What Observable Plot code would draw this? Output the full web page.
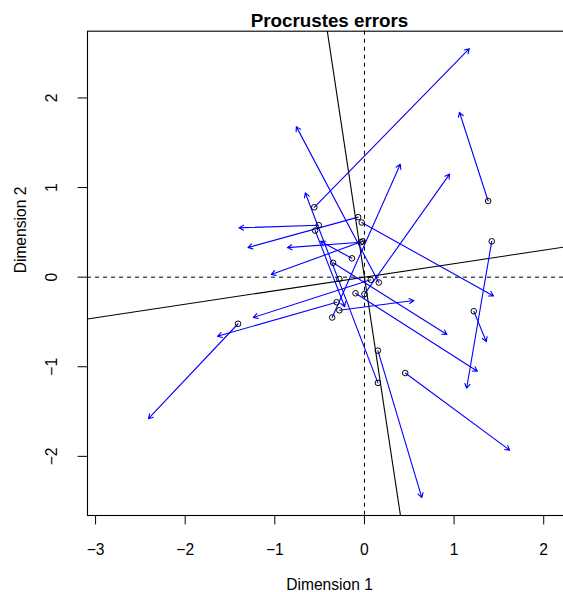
<!DOCTYPE html>
<html><head><meta charset="utf-8">
<script src="https://cdn.jsdelivr.net/npm/d3@7"></script>
<script src="https://cdn.jsdelivr.net/npm/@observablehq/plot@0.6"></script>
<style>html,body{margin:0;padding:0;background:#fff} svg{display:block}</style>
</head><body><div id="chart"></div>
<script>
const title = "Procrustes errors";
const xLabel = "Dimension 1";
const yLabel = "Dimension 2";
const xTicks = [-3, -2, -1, 0, 1, 2];
const yTicks = [-2, -1, 0, 1, 2];
const xDomain = [-3.09, 2.31];
const yDomain = [-2.66, 2.745];
const rotationSlope = 0.151;

// tails (circles) and heads (arrow tips)
const tailX = [1.38, 1.42, 1.22, 0.455, 0.15, 0.15, 0.16, -0.56, -0.36, 0.00, -0.03, -0.51, -0.07, -0.04, -0.02, -0.35, -0.28, 0.07, -0.31, -0.10, -1.41, -0.55, -0.14, -0.28];
const tailY = [0.85, 0.40, -0.38, -1.07, -0.82, -1.18, -0.06, 0.78, -0.45, -0.19, 0.61, 0.58, 0.67, 0.39, 0.40, 0.16, -0.37, -0.03, -0.28, -0.18, -0.52, 0.52, 0.21, -0.02];
const headX = [1.06, 1.14, 1.36, 1.62, 0.64, -0.66, -0.76, 1.17, 0.40, 0.95, 1.44, -1.40, -1.30, -0.86, -1.04, 0.92, 0.55, -1.24, -1.64, 1.26, -2.41, -0.22, -0.49, -0.28];
const headY = [1.84, -1.24, -0.72, -1.93, -2.46, 0.94, 1.68, 2.55, 1.26, 1.15, -0.21, 0.55, 0.33, 0.33, 0.03, -0.64, -0.26, -0.45, -0.66, -1.05, -1.58, -0.33, 0.40, -0.02];

const data = tailX.map((x, i) => ({x1: x, y1: tailY[i], x2: headX[i], y2: headY[i]}));
const arrows = data.filter(d => d.x1 !== d.x2 || d.y1 !== d.y2);
const rotLines = [
  {x1: xDomain[0], y1: xDomain[0] * rotationSlope, x2: xDomain[1], y2: xDomain[1] * rotationSlope},
  {x1: -rotationSlope * yDomain[1], y1: yDomain[1], x2: -rotationSlope * yDomain[0], y2: yDomain[0]}
];
const font = "'Liberation Sans', Arial, Helvetica, sans-serif";
const fmt = d => d < 0 ? "\u2212" + Math.abs(d) : String(d);

const chart = Plot.plot({
  width: 563,
  height: 592,
  marginTop: 30.7,
  marginBottom: 77,
  marginLeft: 87,
  marginRight: -8,
  style: {fontFamily: font, fontSize: "15.6px", color: "black", background: "white"},
  x: {domain: xDomain},
  y: {domain: yDomain},
  marks: [
    Plot.ruleX([0], {stroke: "black", strokeDasharray: "4,4", strokeWidth: 1}),
    Plot.ruleY([0], {stroke: "black", strokeDasharray: "4,4", strokeWidth: 1}),
    Plot.link(rotLines, {x1: "x1", y1: "y1", x2: "x2", y2: "y2", stroke: "black", strokeWidth: 1.1}),
    Plot.arrow(arrows, {x1: "x1", y1: "y1", x2: "x2", y2: "y2", stroke: "blue", strokeWidth: 1.1, headLength: 7, headAngle: 60}),
    Plot.dot(data, {x: "x1", y: "y1", r: 2.8, stroke: "black", fill: "none", strokeWidth: 1}),
    Plot.frame({stroke: "black", strokeWidth: 1.1}),
    Plot.axisX(xTicks, {anchor: "bottom", tickSize: 9.4, tickPadding: 19, tickFormat: fmt, label: null, fontSize: 15.6}),
    Plot.axisY(yTicks, {anchor: "left", tickSize: 9.4, tickPadding: 21, tickRotate: -90, tickFormat: fmt, label: null, fontSize: 15.6}),
    Plot.text([title], {frameAnchor: "top", lineAnchor: "bottom", dy: -4, fontWeight: "bold", fontSize: 18.8}),
    Plot.text([xLabel], {frameAnchor: "bottom", lineAnchor: "bottom", dy: 74, fontSize: 15.6}),
    Plot.text([yLabel], {frameAnchor: "left", lineAnchor: "bottom", rotate: -90, dx: -62, fontSize: 15.6})
  ]
});
document.getElementById("chart").appendChild(chart);
</script>
</body></html>
